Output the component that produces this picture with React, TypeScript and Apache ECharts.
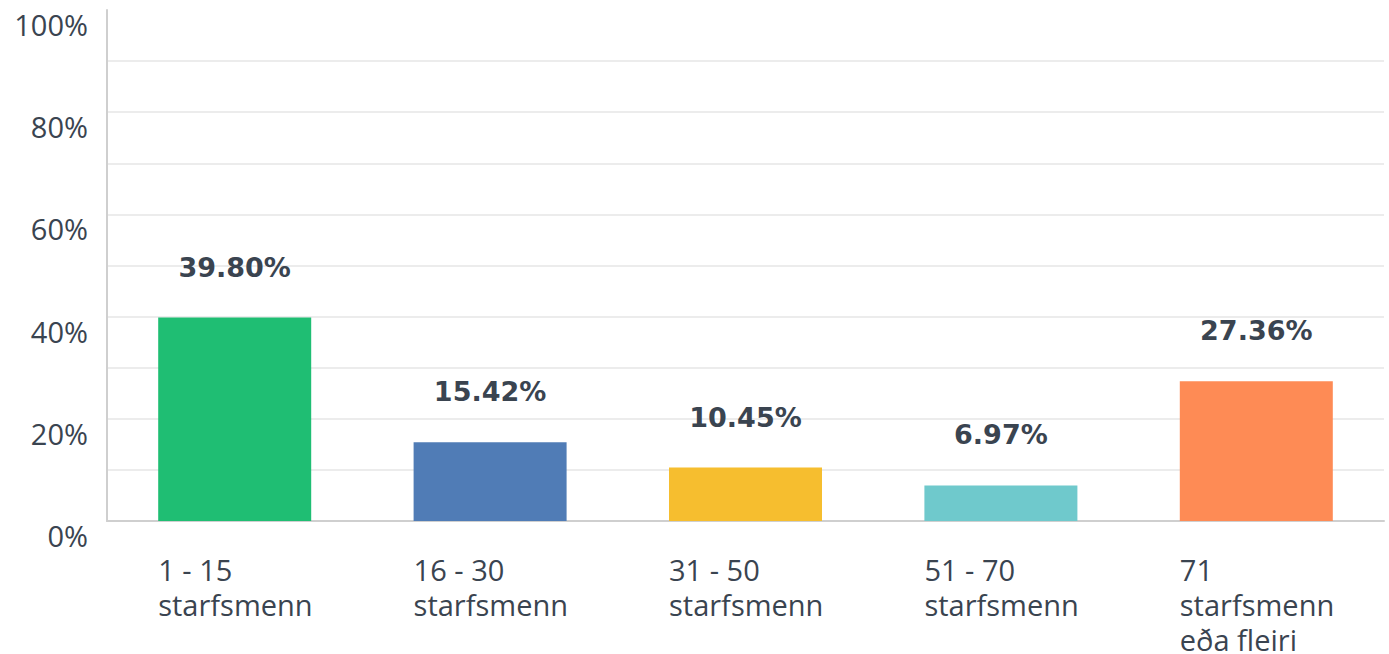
import React, { useEffect, useRef } from "react";
import * as echarts from "echarts";

const categories = [
  "1 - 15\nstarfsmenn",
  "16 - 30\nstarfsmenn",
  "31 - 50\nstarfsmenn",
  "51 - 70\nstarfsmenn",
  "71\nstarfsmenn\neða fleiri",
];
const values = [39.8, 15.42, 10.45, 6.97, 27.36];
const barColors = ["#1fbe73", "#507cb6", "#f6be2f", "#6fc9cc", "#fe8b55"];
const yTickLabels = ["0%", "20%", "40%", "60%", "80%", "100%"];

const FONT = "'Open Sans', sans-serif";
const BOLD_FONT = "'DejaVu Sans', sans-serif";
const TEXT = "#3a4450";

export default function App() {
  const ref = useRef<HTMLDivElement>(null);
  useEffect(() => {
    if (!ref.current) return;
    const chart = echarts.init(ref.current, undefined, { renderer: "svg" });
    chart.setOption({
      animation: false,
      grid: { left: 107, right: 5, top: 10, bottom: 132, containLabel: false },
      xAxis: {
        type: "category",
        data: categories,
        axisLine: { show: true, lineStyle: { color: "#cfcfcf", width: 2 } },
        axisTick: { show: false },
        axisLabel: {
          interval: 0,
          margin: 31,
          align: "center",
          formatter: (v: string) =>
            v
              .split("\n")
              .map((l) => `{a|${l}}`)
              .join("\n"),
          rich: {
            a: {
              width: 153,
              align: "left",
              fontFamily: FONT,
              fontSize: 29,
              lineHeight: 35,
              color: TEXT,
            },
          },
        },
      },
      yAxis: {
        type: "value",
        min: 0,
        max: 100,
        interval: 10,
        axisLine: { show: true, lineStyle: { color: "#cfcfcf", width: 2 } },
        axisTick: { show: false },
        splitLine: { show: true, showMaxLine: false, lineStyle: { color: "#ececec", width: 2 } },
        axisLabel: {
          margin: 19,
          verticalAlign: "top",
          fontFamily: FONT,
          fontSize: 29,
          color: TEXT,
          formatter: (v: number) => {
            const s = `${v}%`;
            return yTickLabels.includes(s) ? s : "";
          },
        },
      },
      series: [
        {
          type: "bar",
          barWidth: 153,
          data: values.map((v, i) => ({ value: v, itemStyle: { color: barColors[i] } })),
          label: {
            show: true,
            position: "top",
            distance: 37,
            fontFamily: BOLD_FONT,
            fontSize: 27,
            fontWeight: "bold",
            color: TEXT,
            formatter: (p: any) => `${p.value.toFixed(2)}%`,
          },
        },
      ],
    });
    return () => chart.dispose();
  }, []);
  return (
    <div
      ref={ref}
      style={{ position: "fixed", left: 0, top: 0, width: 1389, height: 654, background: "#fff" }}
    />
  );
}
